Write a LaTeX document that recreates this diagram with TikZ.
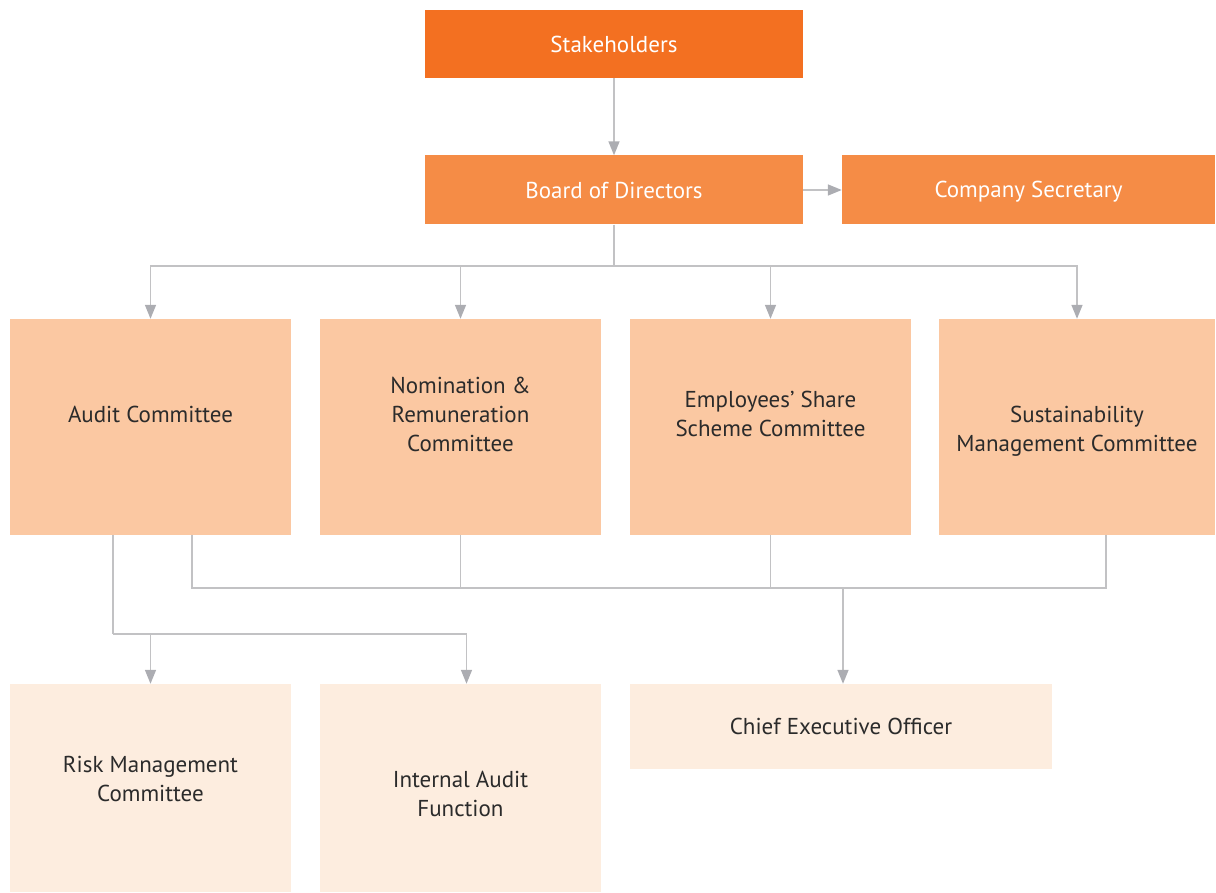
\documentclass[tikz,border=0pt]{standalone}
\usepackage{fontspec}
\setmainfont{PT Sans}
\usetikzlibrary{arrows.meta}
\definecolor{topor}{HTML}{F37021}
\definecolor{midor}{HTML}{F58C46}
\definecolor{comor}{HTML}{FBC8A2}
\definecolor{lowor}{HTML}{FDEDDF}
\definecolor{linegray}{HTML}{C2C2C4}
\definecolor{tipgray}{HTML}{ACADB2}
\definecolor{txtgray}{HTML}{2B2B2B}
\tikzset{
  box/.style={inner sep=0pt},
  txt/.style={inner sep=0pt,align=center,text=txtgray,font=\fontsize{23}{29}\selectfont},
  conn/.style={draw=linegray,line width=1.5pt},
  arr/.style={conn,-{Triangle[length=14pt,width=11pt,fill=tipgray,color=tipgray]}}
}
\begin{document}
\begin{tikzpicture}[x=1pt,y=-1pt]
	\useasboundingbox (0,0) rectangle (1216,893);
	% top
	\node (stake) at (614,44) [box,fill=topor,minimum width=378pt,minimum height=68pt,label={[txt,text=white]center:Stakeholders}] {};
	\node (board) at (614,190) [box,fill=midor,minimum width=378pt,minimum height=69pt,label={[txt,text=white]center:Board of Directors}] {};
	\node (secr) at (1028.5,190) [box,fill=midor,minimum width=373pt,minimum height=69pt,label={[txt,text=white,yshift=-1.5pt]center:Company Secretary}] {};
	% committees
	\node (audit) at (150.5,427) [box,fill=comor,minimum width=281pt,minimum height=216pt,label={[txt,yshift=13pt]center:Audit Committee}] {};
	\node (nomin) at (460.5,427) [box,fill=comor,minimum width=281pt,minimum height=216pt,label={[txt,yshift=13pt]center:{Nomination \&\\Remuneration\\Committee}}] {};
	\node (share) at (770.5,427) [box,fill=comor,minimum width=281pt,minimum height=216pt,label={[txt,yshift=13pt]center:{Employees’ Share\\Scheme Committee}}] {};
	\node (sustain) at (1077,427) [box,fill=comor,minimum width=276pt,minimum height=216pt,label={[txt,yshift=-4.5pt]center:{Sustainability\\Management Committee}}] {};
	% lower row
	\node (risk) at (150.5,788) [box,fill=lowor,minimum width=281pt,minimum height=208pt,label={[txt,yshift=9pt]center:{Risk Management\\Committee}}] {};
	\node (internal) at (460.5,788) [box,fill=lowor,minimum width=281pt,minimum height=208pt,label={[txt,yshift=-5.5pt]center:{Internal Audit\\Function}}] {};
	\node (ceo) at (841,726.5) [box,fill=lowor,minimum width=422pt,minimum height=85pt,label={[txt]center:Chief Executive Officer}] {};
	% connectors
	\coordinate (busa) at (614,266);
	\coordinate (busb) at (113,634);
	\coordinate (busc) at (843,588);
	\draw [arr] (stake) -- (board);
	\draw [arr] (board) -- (secr);
	\draw [conn] (board.south) -- (busa);
	\foreach \c in {audit,nomin,share,sustain}
		\draw [arr] (busa) -| (\c.north);
	\draw [conn] ([xshift=-37.5pt]audit.south) -- (busb);
	\draw [arr] (busb) -| (risk.north);
	\draw [arr] (busb) -| ([xshift=6pt]internal.north);
	\draw [conn] ([xshift=41.5pt]audit.south) |- (busc);
	\draw [conn] ([xshift=29pt]sustain.south) |- (busc);
	\draw [conn] (nomin.south) -- (nomin.south |- busc);
	\draw [conn] (share.south) -- (share.south |- busc);
	\draw [arr] (busc) -- (ceo.north -| busc);
\end{tikzpicture}
\end{document}
